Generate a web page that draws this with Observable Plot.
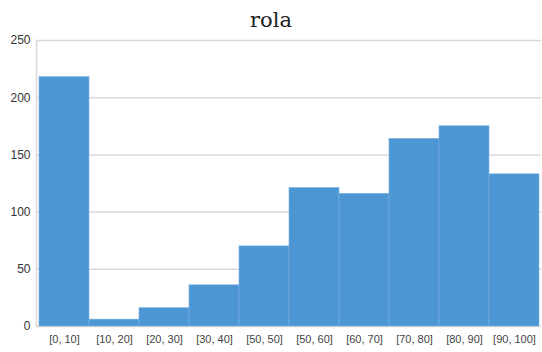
<!DOCTYPE html>
<html>
<head>
<meta charset="utf-8">
<script src="https://cdn.jsdelivr.net/npm/d3@7"></script>
<script src="https://cdn.jsdelivr.net/npm/@observablehq/plot@0.6"></script>
<style>
  html, body { margin: 0; padding: 0; background: #fff; }
  #wrap { width: 542px; height: 352px; overflow: hidden; }
  #title { height: 28px; line-height: 28px; padding-top: 6px; box-sizing: border-box; text-align: center; font-family: "DejaVu Serif", serif; font-size: 21px; color: #222; overflow: visible; }
  #chart svg { display: block; overflow: visible; }
</style>
</head>
<body>
<div id="wrap">
  <div id="title">rola</div>
  <div id="chart"></div>
</div>
<script>
const categories = ["[0, 10]", "[10, 20]", "[20, 30]", "[30, 40]", "[50, 50]", "[50, 60]", "[60, 70]", "[70, 80]", "[80, 90]", "[90, 100]"];
const counts = [218, 6, 16, 36, 70, 121, 116, 164, 175, 133];
const yTicks = [0, 50, 100, 150, 200, 250];

const data = categories.map((c, i) => ({bin: c, count: counts[i]}));

const chart = Plot.plot({
  width: 542,
  height: 324,
  marginTop: 12,
  marginBottom: 26,
  marginLeft: 36,
  marginRight: 1,
  style: {fontFamily: "'Liberation Sans', Arial, sans-serif", background: "#fff"},
  x: {type: "band", domain: categories, paddingInner: 0, paddingOuter: 0, label: null},
  y: {domain: [0, 250], ticks: yTicks, label: null},
  marks: [
    Plot.ruleY(yTicks, {stroke: "#d9d9d9", strokeWidth: 1.5}),
    Plot.barY(data, {x: "bin", y: "count", fill: "#4C96D3", stroke: "#7DB1E0", strokeWidth: 0.6}),
    Plot.frame({anchor: "left", stroke: "#d9d9d9", strokeWidth: 1.5}),
    Plot.axisY({ticks: yTicks, tickSize: 0, tickPadding: 6, fontSize: 12, color: "#333", label: null}),
    Plot.axisX({tickSize: 0, tickPadding: 9, fontSize: 11, color: "#444", label: null})
  ]
});
document.getElementById("chart").appendChild(chart);
</script>
</body>
</html>
